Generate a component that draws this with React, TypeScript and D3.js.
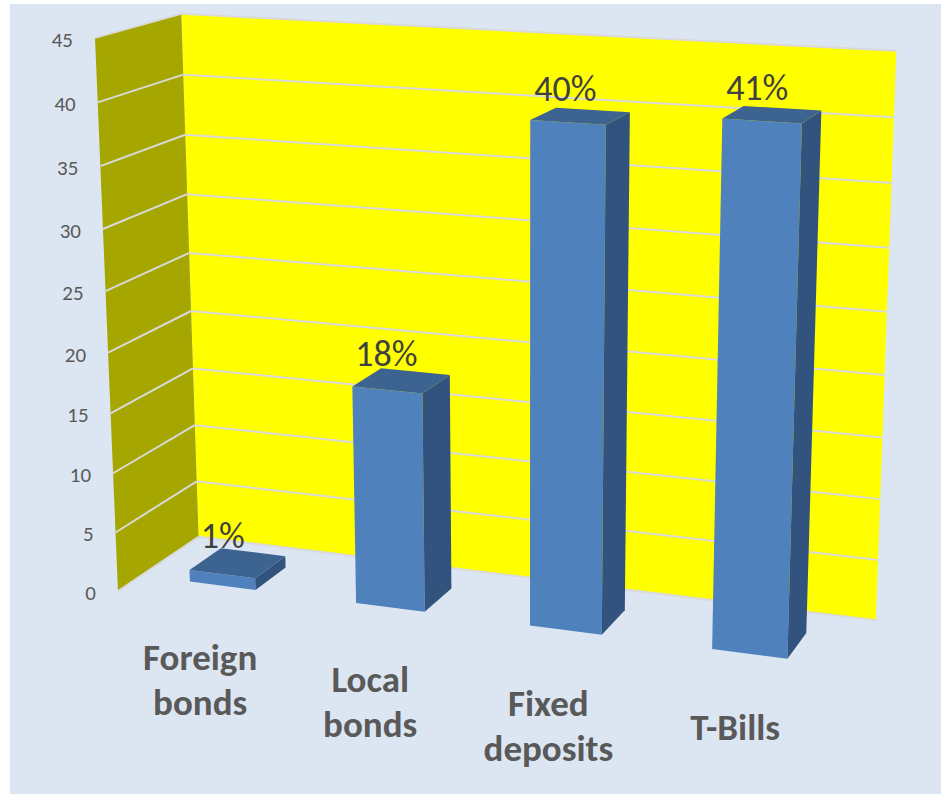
import React from "react";
import * as d3 from "d3";

// ---- data ----
const categories = ["Foreign\nbonds", "Local\nbonds", "Fixed\ndeposits", "T-Bills"];
const values = [1, 18, 40, 41];
const valueLabels = ["1%", "18%", "40%", "41%"];
const yTicks = [0, 5, 10, 15, 20, 25, 30, 35, 40, 45];

// ---- layout / camera ----
const WIDTH = 941;
const HEIGHT = 794;
const BOX_W = 271.4; // world width (category axis)
const BOX_H = 206.2; // world height (value axis)
const BOX_D = 66.2; // world depth
const YAW = (20 * Math.PI) / 180;
const PITCH = (15 * Math.PI) / 180;
const FOCAL = 2692;
const PP = [525, 356];
const T = [-151.2, 87.3, 1000];
const BAR_Z0 = 0.28;
const BAR_Z1 = 0.68;

const FONT = "Carlito, Calibri, Lato, 'Open Sans', sans-serif";

const ct = Math.cos(YAW), st = Math.sin(YAW), cp = Math.cos(PITCH), sp = Math.sin(PITCH);
const XD = [ct, st * sp, -st * cp];
const YD = [0, -cp, -sp];
const ZD = [st, -ct * sp, ct * cp];

function project(X: number, Y: number, Z: number): [number, number] {
  const cx = T[0] + X * XD[0] + Y * YD[0] + Z * ZD[0];
  const cy = T[1] + X * XD[1] + Y * YD[1] + Z * ZD[1];
  const cz = T[2] + X * XD[2] + Y * YD[2] + Z * ZD[2];
  return [PP[0] + (FOCAL * cx) / cz, PP[1] + (FOCAL * cy) / cz];
}

const poly = (pts: [number, number][]) => pts.map((p) => p.join(",")).join(" ");

export default function App() {
  const x = d3.scaleBand<string>().domain(categories).range([0, BOX_W]).paddingInner(0.6).paddingOuter(0.3);
  const y = d3.scaleLinear().domain([0, 45]).range([0, BOX_H]);
  const z = d3.scaleLinear().domain([0, 1]).range([0, BOX_D]);

  const backWall = [project(0, 0, BOX_D), project(0, BOX_H, BOX_D), project(BOX_W, BOX_H, BOX_D), project(BOX_W, 0, BOX_D)];
  const sideWall = [project(0, 0, 0), project(0, BOX_H, 0), project(0, BOX_H, BOX_D), project(0, 0, BOX_D)];

  const z0 = z(BAR_Z0), z1 = z(BAR_Z1);

  return (
    <svg width={WIDTH} height={HEIGHT} style={{ position: "absolute", left: 0, top: 0 }} fontFamily={FONT}>
      <rect x={0} y={0} width={WIDTH} height={HEIGHT} fill="#ffffff" />
      <rect x={10} y={4} width={WIDTH - 10} height={HEIGHT - 4} fill="#dce6f2" />

      {/* back wall */}
      <polygon points={poly(backWall)} fill="#ffff00" />
      {yTicks.map((t) => {
        const a = project(0, y(t), BOX_D), b = project(BOX_W, y(t), BOX_D);
        return <line key={"bg" + t} x1={a[0]} y1={a[1]} x2={b[0]} y2={b[1]} stroke="#d9d9d9" strokeWidth={2} />;
      })}
      {/* side wall */}
      <polygon points={poly(sideWall)} fill="#a6a600" />
      {yTicks.map((t) => {
        const a = project(0, y(t), 0), b = project(0, y(t), BOX_D);
        return <line key={"sg" + t} x1={a[0]} y1={a[1]} x2={b[0]} y2={b[1]} stroke="#d9d9d9" strokeWidth={2} />;
      })}

      {/* y tick labels */}
      {yTicks.map((t) => {
        const p = project(0, y(t), 0);
        return (
          <text key={"yt" + t} x={p[0] - 22} y={p[1] + 2} textAnchor="end" dominantBaseline="central" fontSize={21} fill="#595959">
            {t}
          </text>
        );
      })}

      {/* bars */}
      {categories.map((c, i) => {
        const x0 = x(c)!, x1 = x0 + x.bandwidth();
        const h = y(values[i]);
        const front = [project(x0, 0, z0), project(x0, h, z0), project(x1, h, z0), project(x1, 0, z0)];
        const top = [project(x0, h, z0), project(x0, h, z1), project(x1, h, z1), project(x1, h, z0)];
        const right = [project(x1, 0, z0), project(x1, h, z0), project(x1, h, z1), project(x1, 0, z1)];
        const lp = project((x0 + x1) / 2, h, (z0 + z1) / 2);
        return (
          <g key={c}>
            <polygon points={poly(front)} fill="#4f81bd" />
            <polygon points={poly(right)} fill="#31537d" />
            <polygon points={poly(top)} fill="#3d6491" />
            <text x={lp[0] - 15} y={lp[1] - 27} textAnchor="middle" dominantBaseline="central" fontSize={36} fill="#404040">
              {valueLabels[i]}
            </text>
          </g>
        );
      })}

      {/* category labels */}
      {categories.map((c) => {
        const p = project(x(c)! + x.bandwidth() / 2, 0, 0);
        const lines = c.split("\n");
        return (
          <text key={"cl" + c} x={p[0]} y={p[1] + 68} textAnchor="middle" fontSize={37} fontWeight="bold" fill="#595959">
            {lines.map((l, k) => (
              <tspan key={k} x={p[0]} dy={k === 0 ? 0 : 45}>
                {l}
              </tspan>
            ))}
          </text>
        );
      })}
    </svg>
  );
}
